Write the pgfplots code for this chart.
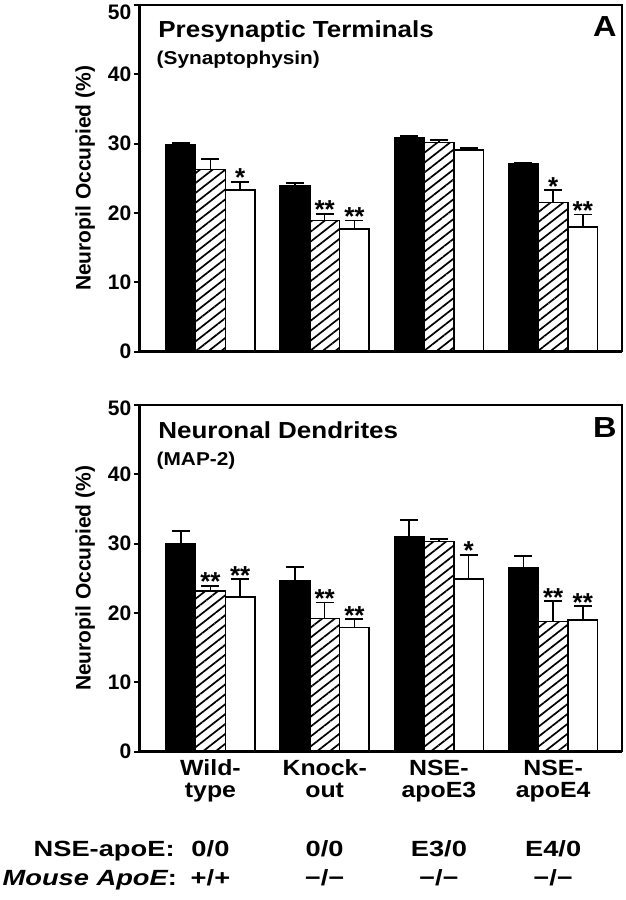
\documentclass[border=0pt]{standalone}
\usepackage{fontspec}
\setmainfont{Liberation Sans}
\newfontfamily\widefont{Liberation Sans}[FakeStretch=1.24]
\newfontfamily\catfont{Liberation Sans}[FakeStretch=1.13]
\newfontfamily\titlefont{Liberation Sans}[FakeStretch=1.12]
\usepackage{pgfplots}
\usepackage{pgfplotstable}
\pgfplotsset{compat=1.18}
\usetikzlibrary{patterns.meta}

% panel A (synaptophysin): x mean err
\pgfplotstableread{
x y e
0 29.8 0.30
1 24.0 0.35
2 30.9 0.25
3 27.1 0.15
}\AblackT
\pgfplotstableread{
x y e
0 26.3 1.45
1 18.9 1.00
2 30.2 0.30
3 21.5 1.80
}\AhatchT
\pgfplotstableread{
x y e
0 23.3 1.20
1 17.7 1.20
2 29.1 0.25
3 18.0 1.80
}\AwhiteT
% panel B (MAP-2)
\pgfplotstableread{
x y e
0 30.0 1.80
1 24.7 1.90
2 31.0 2.40
3 26.6 1.60
}\BblackT
\pgfplotstableread{
x y e
0 23.2 0.70
1 19.2 2.30
2 30.3 0.40
3 18.75 2.95
}\BhatchT
\pgfplotstableread{
x y e
0 22.3 2.60
1 17.9 1.20
2 24.9 3.50
3 19.0 2.00
}\BwhiteT

\pgfplotsset{
  panel/.style={
    scale only axis, width=241.35pt, height=173.35pt,
    ymin=0, ymax=50, xmin=-0.623, xmax=3.603,
    ybar=0pt, bar width=14.85pt,
    ytick={0,10,20,30,40}, xtick={0,1,2,3},
    ytick pos=left,
    tick align=outside, major tick length=2.4pt,
    xtick style={draw=none},
    ytick style={line width=1pt, black},
    axis line style={line width=0.75pt},
    yticklabel style={font=\fontsize{10.5}{12}\selectfont\bfseries, inner sep=0pt, xshift=-1.4pt},
    extra y ticks={50},
    extra tick style={ytick style={line width=1pt, black}},
    /pgf/number format/assume math mode=true,
    ylabel={Neuropil Occupied (\%)},
    every axis y label/.style={at={(rel axis cs:0,0.5)}, xshift=-27pt, rotate=90, anchor=center,
      font=\fontsize{10.5}{12}\selectfont\bfseries},
    clip=false,
    error bars/y dir=plus, error bars/y explicit,
    error bars/error bar style={line width=0.8pt, black},
    error bars/error mark options={rotate=90, mark size=4.5pt, line width=0.8pt, black},
  },
  blackbar/.style={fill=black, draw=black, line width=0.75pt},
  hatchbar/.style={pattern={Lines[angle=38,distance=3.9pt,line width=0.85pt]}, draw=black, line width=0.75pt},
  whitebar/.style={fill=white, draw=black, line width=0.75pt},
}
\tikzset{
  star/.style={font=\fontsize{13}{13}\selectfont\bfseries, anchor=base, inner sep=0pt, yshift=-2.5pt},
  rowtxt/.style={anchor=base, inner sep=0pt, font=\fontsize{11}{12}\widefont\bfseries},
}

\begin{document}
\begin{tikzpicture}
\path[use as bounding box] (0,0) rectangle (313pt,450pt);

% ---------------- Panel A ----------------
\begin{axis}[panel, at={(69.65pt,274.15pt)}, anchor=south west, xticklabels={},
  extra tick style={yticklabel style={yshift=-3.6pt}}]
\addplot[blackbar] table[x=x, y=y, y error=e] {\AblackT};
\addplot[hatchbar] table[x=x, y=y, y error=e] {\AhatchT};
\addplot[whitebar] table[x=x, y=y, y error=e] {\AwhiteT};
\draw[line width=1.35pt] (rel axis cs:0,1) -- (rel axis cs:0,0) -- (rel axis cs:1,0);
\node[star] at (axis cs:0,24.5) [xshift=14.85pt] {*};
\node[star] at (axis cs:1,19.9) {**};
\node[star] at (axis cs:1,18.9) [xshift=14.85pt] {**};
\node[star] at (axis cs:3,23.3) {*};
\node[star] at (axis cs:3,19.8) [xshift=14.85pt] {**};
\node[anchor=base west, inner sep=0pt, font=\fontsize{11.6}{13}\titlefont\bfseries]
  at (rel axis cs:0,1) [xshift=9.35pt, yshift=-16.5pt] {Presynaptic Terminals};
\node[anchor=base west, inner sep=0pt, font=\fontsize{9.3}{11}\titlefont\bfseries]
  at (rel axis cs:0,1) [xshift=8.5pt, yshift=-30pt] {(Synaptophysin)};
\node[anchor=base east, inner sep=0pt, font=\fontsize{14.5}{16}\titlefont\bfseries]
  at (rel axis cs:1,1) [xshift=-2.5pt, yshift=-16pt] {A};
\end{axis}

% ---------------- Panel B ----------------
\begin{axis}[panel, at={(69.65pt,74.15pt)}, anchor=south west,
  extra tick style={yticklabel style={yshift=-1.5pt}},
  xticklabels={Wild-\\type, Knock-\\out, NSE-\\apoE3, NSE-\\apoE4},
  xticklabel style={font=\fontsize{11}{11}\catfont\bfseries, align=center, anchor=north,
    inner sep=0pt, yshift=-1.4pt}]
\addplot[blackbar] table[x=x, y=y, y error=e] {\BblackT};
\addplot[hatchbar] table[x=x, y=y, y error=e] {\BhatchT};
\addplot[whitebar] table[x=x, y=y, y error=e] {\BwhiteT};
\draw[line width=1.35pt] (rel axis cs:0,1) -- (rel axis cs:0,0) -- (rel axis cs:1,0);
\node[star] at (axis cs:0,23.9) {**};
\node[star] at (axis cs:0,24.9) [xshift=14.85pt] {**};
\node[star] at (axis cs:1,21.5) {**};
\node[star] at (axis cs:1,19.1) [xshift=14.85pt] {**};
\node[star] at (axis cs:2,28.4) [xshift=14.85pt] {*};
\node[star] at (axis cs:3,21.7) {**};
\node[star] at (axis cs:3,21.0) [xshift=14.85pt] {**};
\node[anchor=base west, inner sep=0pt, font=\fontsize{11.6}{13}\titlefont\bfseries]
  at (rel axis cs:0,1) [xshift=9.35pt, yshift=-16.5pt] {Neuronal Dendrites};
\node[anchor=base west, inner sep=0pt, font=\fontsize{9.3}{11}\titlefont\bfseries]
  at (rel axis cs:0,1) [xshift=8.5pt, yshift=-30pt] {(MAP-2)};
\node[anchor=base east, inner sep=0pt, font=\fontsize{14.5}{16}\titlefont\bfseries]
  at (rel axis cs:1,1) [xshift=-2.5pt, yshift=-16pt] {B};
% genotype rows
\node[rowtxt, anchor=base east] at (rel axis cs:0,0) [xshift=17.85pt, yshift=-52.2pt] {NSE-apoE:};
\node[rowtxt, anchor=base east] at (rel axis cs:0,0) [xshift=19pt, yshift=-66.7pt] {{\itshape Mouse ApoE}:};
\node[rowtxt] at (axis cs:0,0) [yshift=-52.2pt] {0/0};
\node[rowtxt] at (axis cs:1,0) [yshift=-52.2pt] {0/0};
\node[rowtxt] at (axis cs:2,0) [yshift=-52.2pt] {E3/0};
\node[rowtxt] at (axis cs:3,0) [yshift=-52.2pt] {E4/0};
\node[rowtxt] at (axis cs:0,0) [yshift=-66.7pt] {+/+};
\node[rowtxt] at (axis cs:1,0) [yshift=-66.7pt] {−/−};
\node[rowtxt] at (axis cs:2,0) [yshift=-66.7pt] {−/−};
\node[rowtxt] at (axis cs:3,0) [yshift=-66.7pt] {−/−};
\end{axis}
\end{tikzpicture}
\end{document}
